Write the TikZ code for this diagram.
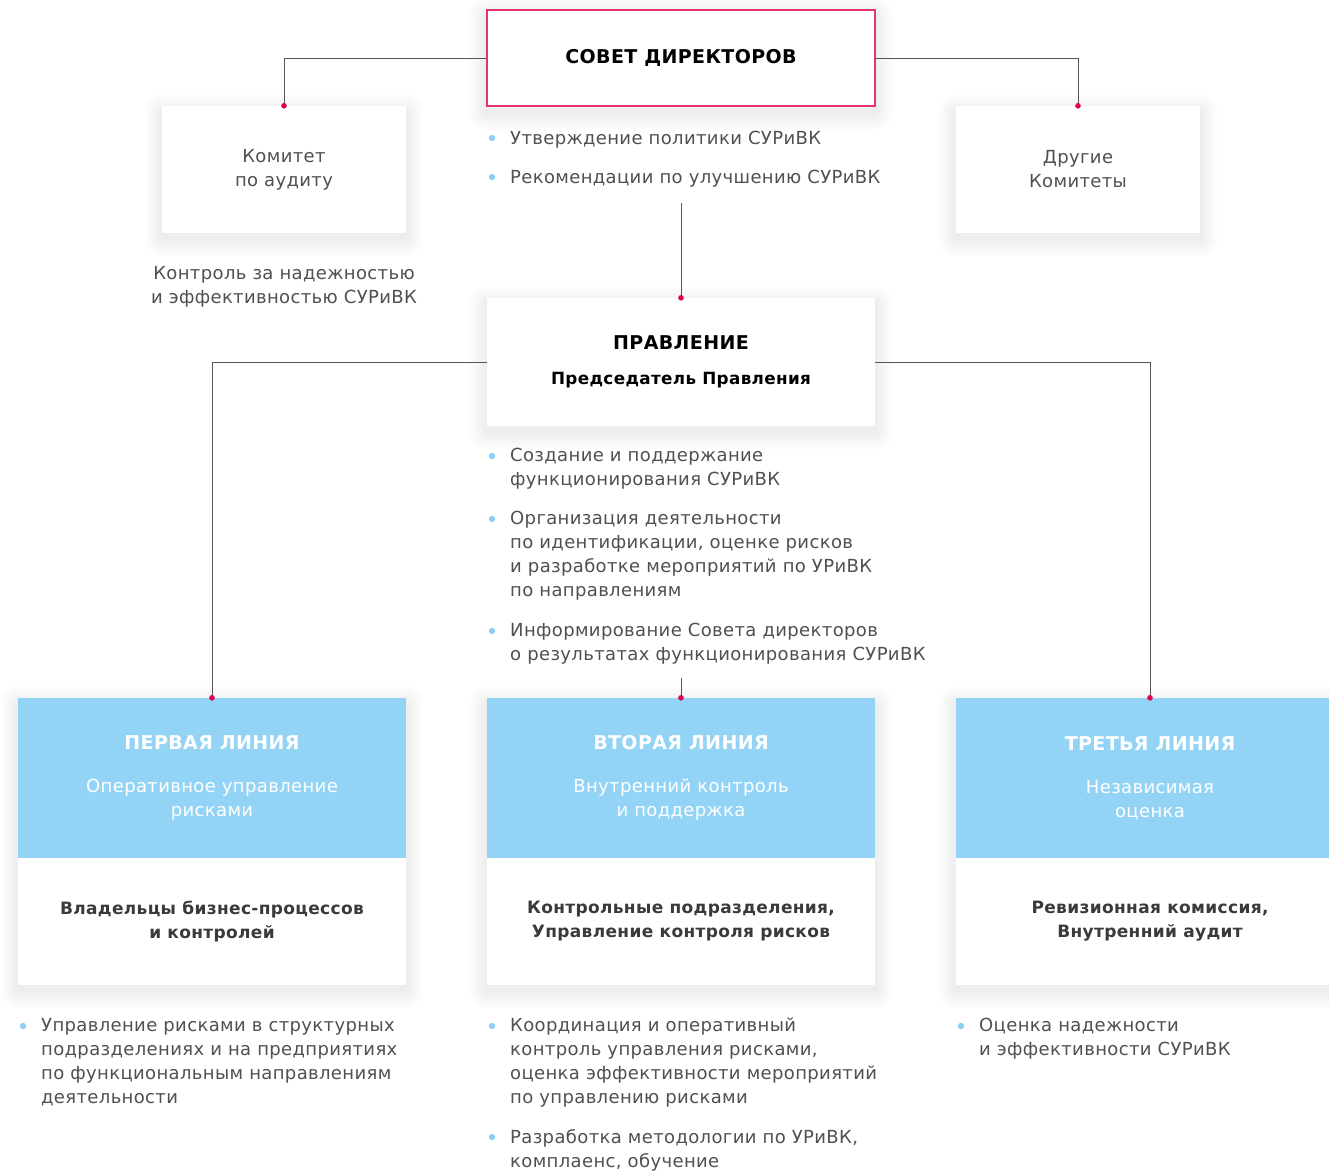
\documentclass[tikz,border=0pt]{standalone}
\usepackage{fontspec}
\setmainfont{DejaVu Sans}[LetterSpace=2]
\usetikzlibrary{backgrounds}
\definecolor{OrgPink}{HTML}{E5336B}
\definecolor{OrgDot}{HTML}{E0004D}
\definecolor{OrgBlue}{HTML}{93D4F6}
\definecolor{OrgBullet}{HTML}{8ED0F5}
\definecolor{OrgText}{HTML}{505050}
\definecolor{OrgDark}{HTML}{3A3A3A}
\definecolor{OrgWire}{HTML}{555555}
\newcommand{\linehead}[1]{{\fontsize{19}{24}\selectfont\bfseries #1}}
% soft shadow behind the box from node #1 (top) to node #2 (bottom)
\newcommand{\cardshadow}[2]{%
  \foreach \k in {1,...,18}{
    \fill[black,opacity=0.0042,rounded corners=\k pt]
      ([xshift=-\k pt,yshift=\k pt-6pt]#1.north west) rectangle
      ([xshift=\k pt,yshift=-\k pt-6pt]#2.south east);
  }}

\begin{document}
\begin{tikzpicture}[x=1pt,y=-1pt,
    card/.style={fill=white,inner sep=0pt,align=center,text=OrgText},
    headcard/.style={card,fill=OrgBlue,text=white,
      minimum width=388pt,minimum height=160pt,
      font=\fontsize{18}{24}\selectfont},
    bodycard/.style={card,minimum width=388pt,minimum height=127pt,
      text=OrgDark,font=\fontsize{17}{24}\selectfont\bfseries},
    bultext/.style={anchor=north west,inner sep=0pt,align=left,
      text=OrgText,font=\fontsize{18}{24}\selectfont},
    wire/.style={OrgWire,line width=0.8pt}]
  \useasboundingbox (0,0) rectangle (1329,1173);

  % top level
  \node[card,draw=OrgPink,line width=1.3pt,minimum width=388pt,
    minimum height=96pt,text=black,
    font=\fontsize{19}{24}\selectfont\bfseries] (board) at (681,58)
    {СОВЕТ ДИРЕКТОРОВ};
  \node[card,minimum width=244pt,minimum height=127pt,
    font=\fontsize{18}{24}\selectfont] (audit) at (284,169.5)
    {Комитет\\по аудиту};
  \node[card,minimum width=244pt,minimum height=127pt,
    font=\fontsize{18}{24}\selectfont] (others) at (1078,169.5)
    {Другие\\Комитеты};
  \node[align=center,text=OrgText,inner sep=0pt,
    font=\fontsize{18}{24}\selectfont] (auditnote) at (284,287)
    {Контроль за надежностью\\и эффективностью СУРиВК};

  \node[bultext] (bd1) at (510,131) {Утверждение политики СУРиВК};
  \node[bultext] (bd2) at (510,170) {Рекомендации по улучшению СУРиВК};
  \coordinate (bdout) at (681,203);

  % management
  \node[card,minimum width=388pt,minimum height=128pt,text=black,
    font=\fontsize{16.8}{20}\selectfont\bfseries] (mgmt) at (681,362)
    {\linehead{ПРАВЛЕНИЕ}\\[15pt]Председатель Правления};

  \node[bultext] (mg1) at (510,448)
    {Создание и поддержание\\функционирования СУРиВК};
  \node[bultext] (mg2) at (510,511)
    {Организация деятельности\\по идентификации, оценке рисков\\и разработке мероприятий по УРиВК\\по направлениям};
  \node[bultext] (mg3) at (510,623)
    {Информирование Совета директоров\\о результатах функционирования СУРиВК};
  \coordinate (mgout) at (681,678);

  % three lines
  \node[bodycard] (own1) at (212,921.5) {Владельцы бизнес-процессов\\и контролей};
  \node[bodycard] (own2) at (681,921.5) {Контрольные подразделения,\\Управление контроля рисков};
  \node[bodycard] (own3) at (1150,921.5) {Ревизионная комиссия,\\Внутренний аудит};

  \node[headcard] (line1) at (212,778)
    {\linehead{ПЕРВАЯ ЛИНИЯ}\\[19pt]Оперативное управление\\рисками};
  \node[headcard] (line2) at (681,778)
    {\linehead{ВТОРАЯ ЛИНИЯ}\\[19pt]Внутренний контроль\\и поддержка};
  \node[headcard] (line3) at (1150,778)
    {\linehead{ТРЕТЬЯ ЛИНИЯ}\\[19pt]Независимая\\оценка};

  \node[bultext] (ln1) at (41,1018)
    {Управление рисками в структурных\\подразделениях и на предприятиях\\по функциональным направлениям\\деятельности};
  \node[bultext] (ln2) at (510,1018)
    {Координация и оперативный\\контроль управления рисками,\\оценка эффективности мероприятий\\по управлению рисками};
  \node[bultext] (ln2b) at (510,1129)
    {Разработка методологии по УРиВК,\\комплаенс, обучение};
  \node[bultext] (ln3) at (979,1018)
    {Оценка надежности\\и эффективности СУРиВК};

  \begin{scope}[on background layer]
    \fill[white] (0,0) rectangle (1329,1173);
    \cardshadow{board}{board}
    \cardshadow{audit}{audit}
    \cardshadow{others}{others}
    \cardshadow{mgmt}{mgmt}
    \cardshadow{line1}{own1}
    \cardshadow{line2}{own2}
    \cardshadow{line3}{own3}
  \end{scope}

  % connectors
  \draw[wire] (board.west) -| (audit.north);
  \draw[wire] (board.east) -| (others.north);
  \draw[wire] (bdout) -- (mgmt.north);
  \draw[wire] (mgmt.west) -| (line1.north);
  \draw[wire] (mgmt.east) -| (line3.north);
  \draw[wire] (mgout) -- (line2.north);

  \foreach \n in {audit,others,mgmt,line1,line2,line3}{
    \fill[OrgDot] (\n.north) circle[radius=2.8];
  }

  % bullets
  \foreach \bx/\by in {492/138,492/177,492/456,492/519,492/631,
    23/1026,492/1026,492/1137,961/1026}{
    \fill[OrgBullet] (\bx,\by) circle[radius=3.2];
  }
\end{tikzpicture}
\end{document}
